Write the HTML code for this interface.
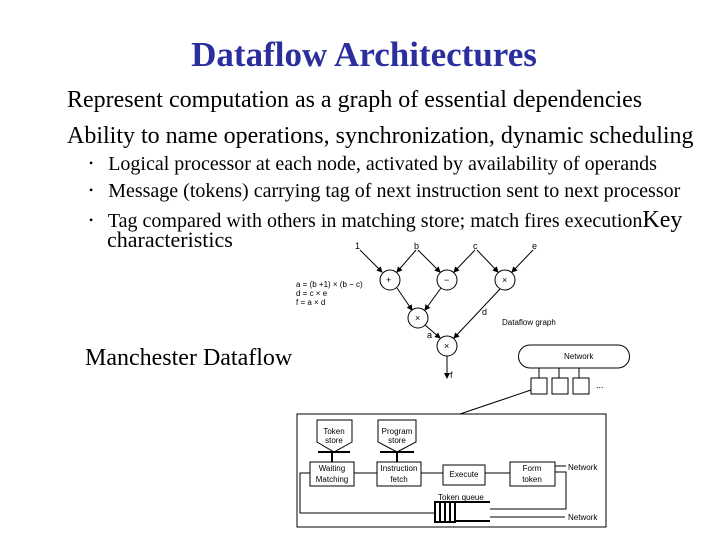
<!DOCTYPE html>
<html><head><style>
body{margin:0;width:720px;height:540px;background:#fff;overflow:hidden;position:relative;font-family:"Liberation Serif",serif;}
.t{position:absolute;white-space:nowrap;color:#000;line-height:1.15;}
</style></head><body>
<div class="t" style="left:0;width:728px;text-align:center;top:35px;font-size:35px;color:#2b2f9e;font-weight:bold;">Dataflow Architectures</div>
<div class="t" style="left:67px;top:87px;font-size:24px;">Represent computation as a graph of essential dependencies</div>
<div class="t" style="left:67px;top:123px;font-size:24px;">Ability to name operations, synchronization, dynamic scheduling</div>
<div class="t" style="left:89px;top:153px;font-size:20px;"><span style="font-size:12px;vertical-align:3px">•</span>&nbsp;&nbsp; Logical processor at each node, activated by availability of operands</div>
<div class="t" style="left:89px;top:180px;font-size:20px;"><span style="font-size:12px;vertical-align:3px">•</span>&nbsp;&nbsp; Message (tokens) carrying tag of next instruction sent to next processor</div>
<div class="t" style="left:89px;top:207px;font-size:20px;"><span style="font-size:12px;vertical-align:3px">•</span>&nbsp;&nbsp; Tag compared with others in matching store; match fires execution<span style="font-size:24px">Key</span></div>
<div class="t" style="left:107px;top:227px;font-size:22px;">characteristics</div>
<div class="t" style="left:85px;top:345px;font-size:24px;">Manchester Dataflow</div>
<svg width="720" height="540" style="position:absolute;left:0;top:0" font-family="Liberation Sans, sans-serif" font-size="8">
<defs><marker id="a" markerWidth="6" markerHeight="6" refX="5" refY="3" orient="auto"><path d="M0,0L6,3L0,6z"/></marker></defs>
<g stroke="#000" fill="none" stroke-width="1">
<circle cx="390" cy="280" r="10"/><circle cx="447" cy="280" r="10"/><circle cx="505" cy="280" r="10"/>
<circle cx="418" cy="318" r="10"/><circle cx="447" cy="346" r="10"/>
<g marker-end="url(#a)">
<line x1="360" y1="250" x2="382" y2="272"/><line x1="416" y1="250" x2="397" y2="272"/>
<line x1="418" y1="250" x2="440" y2="272"/><line x1="475" y1="250" x2="454" y2="272"/>
<line x1="477" y1="250" x2="498" y2="272"/><line x1="533" y1="250" x2="512" y2="272"/>
<line x1="397" y1="288" x2="412" y2="310"/><line x1="441" y1="288" x2="425" y2="310"/>
<line x1="425" y1="325" x2="440" y2="338"/><line x1="500" y1="289" x2="454" y2="338"/>
<line x1="447" y1="356" x2="447" y2="378"/>
</g>
<path d="M530,345 H618 A11,11 0 0 1 618,368 H530 A11,11 0 0 1 530,345 Z"/>
<path d="M539,368V378M559,368V378M579,368V378"/>
<rect x="531" y="378" width="16" height="16"/><rect x="552" y="378" width="16" height="16"/><rect x="573" y="378" width="16" height="16"/>
<path d="M531,390 L460,414"/>
<rect x="297" y="414" width="309" height="113"/>
<path d="M317,420H352V442L334,452L317,442Z"/><path d="M378,420H416V442L397,452L378,442Z"/>
<path d="M318,452H350M380,452H414M332,452V462M397,452V462" stroke-width="2"/>
<rect x="310" y="462" width="44" height="24"/><rect x="377" y="462" width="44" height="24"/>
<rect x="443" y="465" width="42" height="20"/><rect x="510" y="462" width="45" height="24"/>
<path d="M354,473H377M421,473H443M485,473H510M555,466H566"/>
<path d="M555,472H566V509H490M490,517H565M435,513H300V473H310"/>
<rect x="435" y="502" width="20" height="20" stroke-width="2"/>
<path d="M440,503V521M445,503V521M450,503V521M455,502H490M455,521H490" stroke-width="2"/>
</g>
<g font-size="9">
<text x="355" y="249">1</text><text x="414" y="249">b</text><text x="473" y="249">c</text><text x="532" y="249">e</text>
<text x="386" y="283">+</text><text x="444" y="283">−</text><text x="502" y="283">×</text><text x="415" y="321">×</text><text x="444" y="349">×</text>
<text x="296" y="287" font-size="8">a = (b +1) × (b − c)</text><text x="296" y="296" font-size="8">d = c × e</text><text x="296" y="305" font-size="8">f = a × d</text>
<text x="482" y="315">d</text><text x="427" y="338">a</text><text x="450" y="378">f</text>
<text x="502" y="325" font-size="8">Dataflow graph</text>
<text x="564" y="359" font-size="8">Network</text><text x="596" y="388">...</text>
<text x="334" y="434" font-size="8" text-anchor="middle">Token</text><text x="334" y="443" font-size="8" text-anchor="middle">store</text>
<text x="397" y="434" font-size="8" text-anchor="middle">Program</text><text x="397" y="443" font-size="8" text-anchor="middle">store</text>
<text x="332" y="471" font-size="8" text-anchor="middle">Waiting</text><text x="332" y="482" font-size="8" text-anchor="middle">Matching</text>
<text x="399" y="471" font-size="8" text-anchor="middle">Instruction</text><text x="399" y="482" font-size="8" text-anchor="middle">fetch</text>
<text x="464" y="477" font-size="8" text-anchor="middle">Execute</text>
<text x="532" y="471" font-size="8" text-anchor="middle">Form</text><text x="532" y="482" font-size="8" text-anchor="middle">token</text>
<text x="568" y="470" font-size="8">Network</text><text x="568" y="520" font-size="8">Network</text>
<text x="438" y="500" font-size="8">Token queue</text>
</g>
</svg>
</body></html>
